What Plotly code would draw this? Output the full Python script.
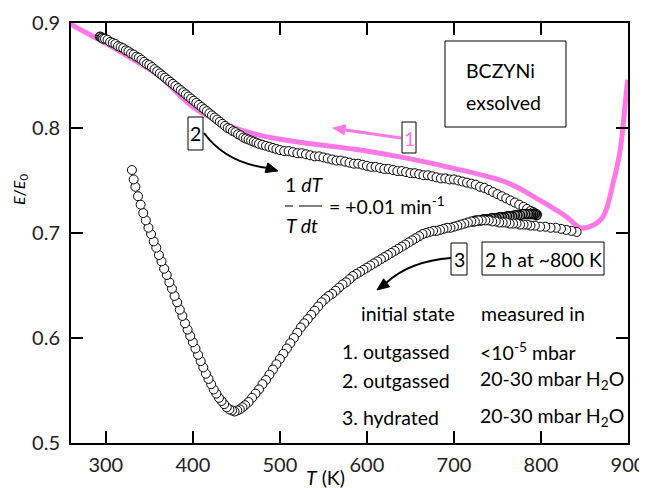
import math
import plotly.graph_objects as go

# ---------------- data ----------------
# curve 1: outgassed, <1e-5 mbar (pink line, cooling from 900 K)
T1 = [260, 262, 293, 330, 362, 400, 439, 477, 527, 592, 641, 692, 761, 799, 830, 845, 856, 871, 883, 891, 899, 900]
E1 = [0.900, 0.898, 0.884, 0.866, 0.849, 0.820, 0.803, 0.793, 0.786, 0.779, 0.772, 0.763, 0.748, 0.731, 0.715, 0.705, 0.706, 0.715, 0.748, 0.779, 0.841, 0.846]

# curve 2: outgassed, 20-30 mbar H2O (heating)
T2 = [293, 294, 295, 296, 297, 299, 302, 305, 308, 311, 314, 317, 320, 323, 326, 329, 332, 335, 338, 341, 344, 347, 350,
      353, 356, 359, 362, 365, 368, 371, 374, 377, 380, 383, 386, 389, 392, 395, 398, 401, 404, 407, 410,
      413, 416, 419, 422, 425, 428, 431, 434, 437, 440, 443, 446, 449, 452, 455, 458, 461, 464, 467, 470,
      473, 476, 480, 484, 488, 492, 496, 500, 505, 510, 515, 520, 525, 530, 535, 540, 545, 550, 555, 560,
      565, 570, 575, 580, 585, 590, 595, 600, 605, 610, 615, 620, 625, 630, 635, 640, 645, 650, 655, 660,
      665, 670, 675, 680, 685, 690, 695, 700, 705, 710, 715, 720, 725, 730, 735, 740, 745, 750, 755, 760,
      765, 770, 775, 780, 784, 788, 791, 793, 795]
E2 = [0.887, 0.887, 0.886, 0.886, 0.885, 0.885, 0.884, 0.882, 0.881, 0.880, 0.878, 0.877, 0.876, 0.874, 0.873, 0.871, 0.870, 0.868, 0.867, 0.865, 0.863, 0.861, 0.860,
      0.858, 0.856, 0.854, 0.852, 0.850, 0.848, 0.846, 0.844, 0.842, 0.840, 0.838, 0.836, 0.834, 0.832, 0.830, 0.828, 0.826, 0.824, 0.822, 0.820,
      0.818, 0.816, 0.814, 0.812, 0.810, 0.808, 0.806, 0.804, 0.802, 0.800, 0.799, 0.797, 0.796, 0.794, 0.793, 0.791, 0.790, 0.789, 0.788, 0.787,
      0.786, 0.785, 0.784, 0.783, 0.782, 0.781, 0.780, 0.779, 0.778, 0.778, 0.777, 0.776, 0.776, 0.775, 0.774, 0.773, 0.773, 0.772, 0.771, 0.770,
      0.769, 0.769, 0.768, 0.767, 0.766, 0.766, 0.765, 0.764, 0.763, 0.763, 0.762, 0.761, 0.761, 0.760, 0.759, 0.759, 0.758, 0.757, 0.757, 0.756,
      0.755, 0.755, 0.754, 0.753, 0.752, 0.752, 0.751, 0.751, 0.750, 0.749, 0.748, 0.747, 0.746, 0.744, 0.743, 0.741, 0.739, 0.737, 0.735, 0.733,
      0.731, 0.729, 0.727, 0.725, 0.723, 0.721, 0.720, 0.719, 0.718]

# 2 h hold at ~800 K
T_hold = [795, 793, 791, 789, 787, 785, 782, 779, 776, 773, 770, 767, 764, 761, 758, 755, 752, 749, 746, 743, 740, 737, 734, 731, 728, 725, 722]
E_hold = [0.717, 0.718, 0.718, 0.718, 0.718, 0.718, 0.718, 0.718, 0.717, 0.717, 0.717, 0.716, 0.716, 0.716, 0.715, 0.715, 0.715, 0.714, 0.714, 0.714, 0.713, 0.713, 0.713, 0.712, 0.712, 0.712, 0.711]

# curve 3: hydrated, 20-30 mbar H2O (cooling)
T3 = [841, 835, 829, 823, 817, 811, 805, 799, 793, 788, 784, 780, 776, 772, 768, 764, 760, 756, 752, 748,
      744, 740, 736, 732, 728, 724, 720, 716, 712, 708, 704, 700, 696, 692, 688, 684, 680, 676, 672, 668,
      664, 660, 656, 652, 648, 644, 640, 636, 632, 628, 624, 620, 616, 612, 608, 604, 600, 596, 592, 588,
      584, 580, 576, 572, 568, 564, 560, 556, 552, 548, 544, 540, 536, 532, 528, 524, 520, 516, 512, 508,
      504, 500, 496, 492, 488, 484, 480, 476, 472, 468, 464, 460, 457, 454, 451, 448, 445, 442, 439, 436,
      433, 430, 427, 424, 421, 418, 415, 412, 409, 406, 403, 400, 397, 394, 391, 388, 385, 382, 379, 376,
      373, 370, 367, 364, 361, 358, 355, 352, 349, 346, 343, 340, 337, 334, 332, 330]
E3 = [0.701, 0.702, 0.703, 0.704, 0.705, 0.705, 0.706, 0.706, 0.707, 0.707, 0.708, 0.708, 0.708, 0.709, 0.709, 0.709, 0.710, 0.710, 0.710, 0.711,
      0.711, 0.712, 0.712, 0.712, 0.712, 0.711, 0.711, 0.710, 0.709, 0.708, 0.707, 0.706, 0.705, 0.705, 0.704, 0.703, 0.702, 0.702, 0.701, 0.700,
      0.699, 0.697, 0.695, 0.693, 0.691, 0.689, 0.687, 0.685, 0.683, 0.681, 0.679, 0.677, 0.675, 0.673, 0.671, 0.669, 0.667, 0.665, 0.663, 0.661,
      0.659, 0.656, 0.653, 0.651, 0.648, 0.645, 0.642, 0.640, 0.637, 0.634, 0.630, 0.626, 0.622, 0.618, 0.614, 0.610, 0.605, 0.600, 0.595, 0.590,
      0.585, 0.580, 0.575, 0.570, 0.565, 0.560, 0.556, 0.551, 0.547, 0.543, 0.539, 0.536, 0.534, 0.532, 0.531, 0.530, 0.531, 0.532, 0.534, 0.537,
      0.540, 0.543, 0.547, 0.551, 0.556, 0.561, 0.566, 0.572, 0.578, 0.584, 0.590, 0.596, 0.602, 0.608, 0.614, 0.621, 0.627, 0.634, 0.640, 0.647,
      0.653, 0.660, 0.666, 0.673, 0.679, 0.686, 0.692, 0.699, 0.705, 0.712, 0.719, 0.727, 0.735, 0.744, 0.751, 0.760]

x_ticks = [300, 400, 500, 600, 700, 800, 900]
y_ticks = [0.5, 0.6, 0.7, 0.8, 0.9]

# ---------------- figure ----------------
# target plot area in window pixels; page body has an 8 px margin
OFF = 8
W, H = 647 - OFF, 488 - OFF
L, R, TOP, BOT = 71, 628, 23, 443
FONT = "Lato"
PINK = "#ff78e6"
FS = 19.5


def P(px, py):
    """window pixel -> paper coords"""
    return (px - L) / (R - L), (BOT - py) / (BOT - TOP)


fig = go.Figure()
fig.add_trace(go.Scatter(x=T1, y=E1, mode="lines", line=dict(color=PINK, width=5, shape="spline"),
                         hoverinfo="skip", showlegend=False))
marker = dict(symbol="circle", size=9, color="white", line=dict(color="black", width=1))
fig.add_trace(go.Scatter(x=T2, y=E2, mode="markers", marker=marker, showlegend=False))
fig.add_trace(go.Scatter(x=T_hold, y=E_hold, mode="markers",
                         marker=dict(symbol="circle", size=9, color="#aaaaaa", line=dict(color="black", width=1.5)),
                         showlegend=False))
fig.add_trace(go.Scatter(x=T3, y=E3, mode="markers", marker=marker, showlegend=False))

shapes = []
annotations = []


def rect(x0, y0, x1, y1):
    a0, b0 = P(x0, y1)
    a1, b1 = P(x1, y0)
    shapes.append(dict(type="rect", xref="paper", yref="paper", x0=a0, y0=b0, x1=a1, y1=b1,
                       line=dict(color="black", width=1), layer="above"))


def text(px, py, s, xanchor="center", color="black", size=FS, angle=0):
    a, b = P(px, py)
    annotations.append(dict(xref="paper", yref="paper", x=a, y=b, text=s, showarrow=False, textangle=angle,
                            xanchor=xanchor, yanchor="middle", font=dict(family=FONT, size=size, color=color)))


def hline(x0, x1, y):
    a0, b = P(x0, y)
    a1, _ = P(x1, y)
    shapes.append(dict(type="line", xref="paper", yref="paper", x0=a0, x1=a1, y0=b, y1=b,
                       line=dict(color="black", width=1)))


def pth(points, close=False, color="black", width=2, fill=None):
    pts = [P(*p) for p in points]
    d = "M " + " L ".join(f"{a},{b}" for a, b in pts)
    if close:
        d += " Z"
    s = dict(type="path", xref="paper", yref="paper", path=d, line=dict(color=color, width=width))
    if fill:
        s["fillcolor"] = fill
    shapes.append(s)


def curve(p0, c, p1, color="black", width=2):
    a0 = P(*p0)
    ac = P(*c)
    a1 = P(*p1)
    path = f"M {a0[0]},{a0[1]} Q {ac[0]},{ac[1]} {a1[0]},{a1[1]}"
    shapes.append(dict(type="path", xref="paper", yref="paper", path=path,
                       line=dict(color=color, width=width)))


def head(tip, tail, color="black", length=12, half=5):
    dx, dy = tip[0] - tail[0], tip[1] - tail[1]
    n = math.hypot(dx, dy)
    ux, uy = dx / n, dy / n
    bx, by = tip[0] - ux * length, tip[1] - uy * length
    px_, py_ = -uy * half, ux * half
    pth([tip, (bx + px_, by + py_), (bx - px_, by - py_)], close=True, color=color, width=1, fill=color)


# BCZYNi box
rect(445, 41, 566, 127)
text(464, 70, "BCZYNi", xanchor="left")
text(464, 102, "exsolved", xanchor="left")

# label 1 (pink) and arrow
rect(402, 122, 416, 153)
text(409, 138, "1", color=PINK)
pth([(401, 138), (342, 129.5)], color=PINK, width=3)
head((333, 128), (401, 138), color=PINK, length=12, half=5)

# label 2 and curved arrow
rect(188, 117, 203, 150)
text(195.5, 134, "2")
curve((204, 133), (226, 163), (268, 168))
head((278, 171), (264, 167))

# formula
text(304, 185, "1 <i>dT</i>")
hline(285, 293, 206)
hline(299, 322, 206)
text(327, 205, "= +0.01 min<sup>-1</sup>", xanchor="left")
text(302, 226, "<i>T dt</i>")

# label 3 and curved arrow
rect(451, 243, 467, 275)
text(459, 259, "3")
curve((451, 258), (410, 261), (386, 283))
head((377, 290), (389, 281))

# 2 h at ~800 K
rect(482, 242, 604, 275)
text(543, 259, "2 h at ~800 K")

# table
text(359, 313, "initial state", xanchor="left")
text(479, 313, "measured in", xanchor="left")
text(340, 351, "1. outgassed", xanchor="left")
text(478, 351, "&lt;10<sup>-5</sup> mbar", xanchor="left")
text(340, 380, "2. outgassed", xanchor="left")
text(478, 380, "20-30 mbar H<sub>2</sub>O", xanchor="left")
text(340, 417, "3. hydrated", xanchor="left")
text(478, 417, "20-30 mbar H<sub>2</sub>O", xanchor="left")

# axis titles
text(325, 477, "<i>T</i> (K)")
text(19, 190, "<i>E</i>/<i>E</i><sub>0</sub>", size=16, angle=-90)

axis_common = dict(showline=True, linecolor="black", linewidth=2, mirror="ticks", ticks="inside",
                   ticklen=12, tickwidth=2, tickcolor="black", showgrid=False, zeroline=False,
                   automargin=False, tickfont=dict(family=FONT, size=20, color="#222"))

fig.update_layout(
    width=W, height=H,
    margin=dict(l=L - OFF, r=(W + OFF) - R, t=TOP - OFF, b=(H + OFF) - BOT, autoexpand=False),
    paper_bgcolor="white", plot_bgcolor="white",
    xaxis=dict(range=[260, 900], tickvals=x_ticks, ticktext=[str(v) for v in x_ticks],
               ticklabelstandoff=3, **axis_common),
    yaxis=dict(range=[0.5, 0.9], tickvals=y_ticks, ticktext=[f"{v:.1f}" for v in y_ticks],
               ticklabelstandoff=5, **axis_common),
    shapes=shapes, annotations=annotations, showlegend=False,
)

fig.write_html("out.html")
